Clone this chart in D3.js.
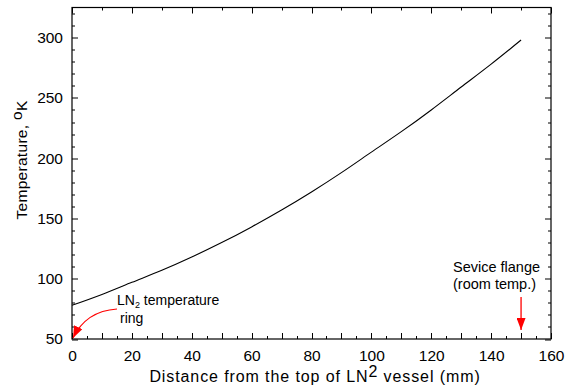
<!DOCTYPE html>
<html>
<head>
<meta charset="utf-8">
<script src="https://cdn.jsdelivr.net/npm/d3@7"></script>
<style>
  body { margin: 0; background: #fff; }
  svg { display: block; font-family: Arial, "Liberation Sans", sans-serif; }
  .axis text { font-size: 15.5px; fill: #000; }
</style>
</head>
<body>
<svg width="568" height="385"></svg>
<script>
// distance from top of vessel (mm) vs temperature (K)
var distance = [0, 10, 20, 30, 40, 50, 60, 70, 80, 90, 100, 110, 120, 130, 140, 150];
var temperature = [78, 87, 97, 107, 118, 130, 143, 157, 172, 188, 205, 222, 240, 259, 278, 298];
var xTicks = [0, 20, 40, 60, 80, 100, 120, 140, 160];
var yTicks = [50, 100, 150, 200, 250, 300];

var svg = d3.select("svg");
var margin = { left: 72, right: 17, top: 7.5, bottom: 46 };
var width = 568 - margin.left - margin.right;
var height = 385 - margin.top - margin.bottom;

var x = d3.scaleLinear().domain([0, 160]).range([0, width]);
var y = d3.scaleLinear().domain([50, 325]).range([height, 0]);

var g = svg.append("g").attr("transform", "translate(" + margin.left + "," + margin.top + ")");

// frame
g.append("rect").attr("width", width).attr("height", height)
  .attr("fill", "none").attr("stroke", "#000").attr("stroke-width", 1.2);

// ticks drawn inside the frame
function tickSet(step, max, min) {
  return d3.range(min, max + 0.001, step);
}
var bottomMajor = tickSet(10, 160, 0), bottomMinor = tickSet(5, 160, 0).filter(function (d) { return d % 10; });
var topMajor = tickSet(20, 160, 0), topMinor = tickSet(10, 160, 0).filter(function (d) { return d % 20; });
var yMajor = yTicks.slice(), yMinor = tickSet(10, 325, 50).filter(function (d) { return d % 50; });

var ticks = g.append("g").attr("stroke", "#000").attr("stroke-width", 1);
function vt(list, y0, len) {
  ticks.selectAll(null).data(list).enter().append("line")
    .attr("x1", function (d) { return Math.round(x(d)) + 0.5; })
    .attr("x2", function (d) { return Math.round(x(d)) + 0.5; })
    .attr("y1", y0).attr("y2", y0 + len);
}
function ht(list, x0, len) {
  ticks.selectAll(null).data(list).enter().append("line")
    .attr("y1", function (d) { return Math.round(y(d)) + 0.5; })
    .attr("y2", function (d) { return Math.round(y(d)) + 0.5; })
    .attr("x1", x0).attr("x2", x0 + len);
}
vt(bottomMajor, height, -6);
vt(bottomMinor, height, -3);
vt(topMajor, 0, 6);
vt(topMinor, 0, 3);
ht(yMajor, 0, 6);
ht(yMinor, 0, 3);
ht(yMajor, width, -6);
ht(yMinor, width, -3);

// tick labels via axes (lines hidden)
var xAxis = g.append("g").attr("class", "axis")
  .attr("transform", "translate(0," + height + ")")
  .call(d3.axisBottom(x).tickValues(xTicks).tickSize(0).tickPadding(11));
var yAxis = g.append("g").attr("class", "axis")
  .call(d3.axisLeft(y).tickValues(yTicks).tickSize(0).tickPadding(9));
xAxis.select(".domain").remove();
yAxis.select(".domain").remove();

// curve
var line = d3.line()
  .x(function (d, i) { return x(distance[i]); })
  .y(function (d) { return y(d); })
  .curve(d3.curveNatural);
g.append("path").datum(temperature)
  .attr("d", line).attr("fill", "none").attr("stroke", "#000").attr("stroke-width", 1.1);

// axis titles
var xt = svg.append("text").attr("x", 315).attr("y", 382)
  .attr("text-anchor", "middle").attr("font-size", 16).attr("letter-spacing", 0.9);
xt.append("tspan").text("Distance from the top of LN");
xt.append("tspan").attr("dy", -5).text("2");
xt.append("tspan").attr("dy", 5).text(" vessel (mm)");

var yt = svg.append("text").attr("transform", "translate(27,160) rotate(-90)")
  .attr("text-anchor", "middle").attr("font-size", 15.5).attr("letter-spacing", 0.3);
yt.append("tspan").text("Temperature, ");
yt.append("tspan").attr("dy", -5).text("o");
yt.append("tspan").attr("dy", 5).text("K");

// annotations
var red = "#ff0000";
svg.append("defs").append("marker")
  .attr("id", "head").attr("viewBox", "0 -5 10 10").attr("refX", 10).attr("refY", 0)
  .attr("markerUnits", "userSpaceOnUse")
  .attr("markerWidth", 12).attr("markerHeight", 9).attr("orient", "auto")
  .attr("preserveAspectRatio", "none")
  .append("path").attr("d", "M0,-5L10,0L0,5Z").attr("fill", red);

var ln = svg.append("text").attr("x", 117).attr("y", 305).attr("font-size", 14);
ln.append("tspan").text("LN");
ln.append("tspan").attr("dy", 3).attr("font-size", 9).text("2");
ln.append("tspan").attr("dy", -3).text(" temperature");
svg.append("text").attr("x", 120).attr("y", 323).attr("font-size", 14).text("ring");

svg.append("path")
  .attr("d", "M117,309 Q86,311 73,338")
  .attr("fill", "none").attr("stroke", red).attr("stroke-width", 1.2)
  .attr("marker-end", "url(#head)");

svg.append("text").attr("x", 453).attr("y", 272).attr("font-size", 14.5).text("Sevice flange");
svg.append("text").attr("x", 453).attr("y", 289).attr("font-size", 14.5).text("(room temp.)");
svg.append("line")
  .attr("x1", x(150) + margin.left).attr("x2", x(150) + margin.left)
  .attr("y1", 297).attr("y2", 330)
  .attr("stroke", red).attr("stroke-width", 1.3)
  .attr("marker-end", "url(#head)");
</script>
</body>
</html>
